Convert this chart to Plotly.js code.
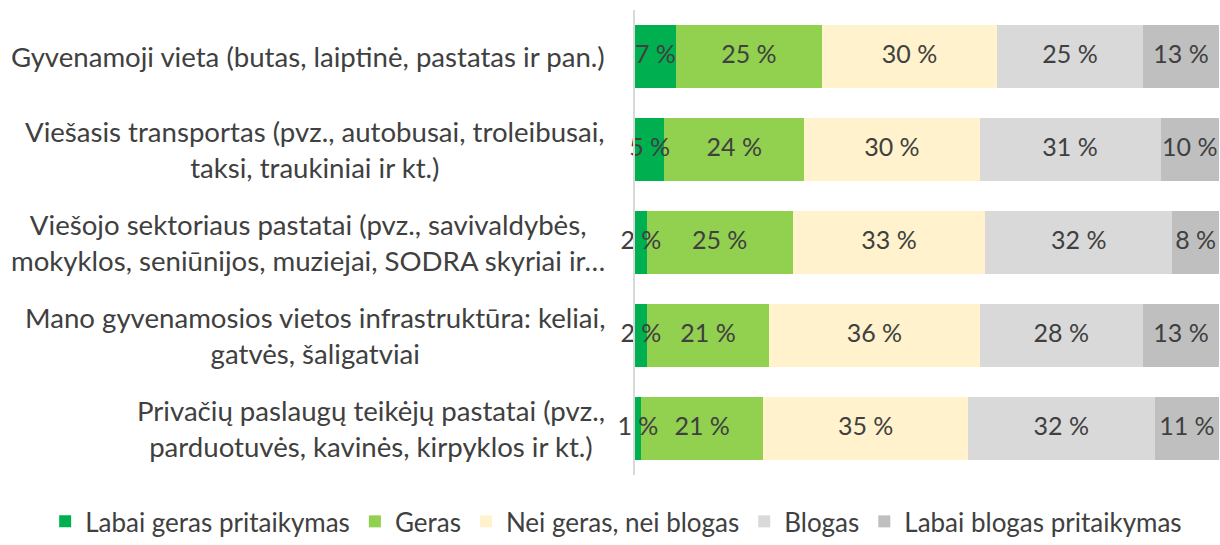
<!DOCTYPE html>
<html>
<head>
<meta charset="utf-8">
<script src="https://cdn.plot.ly/plotly-3.0.1.min.js"></script>
<style>html,body{margin:0;padding:0;background:#fff;}#chart{width:1220px;height:545px;}</style>
</head>
<body>
<div id="chart"></div>
<script>
const categories = [
  "Gyvenamoji vieta (butas, laiptinė, pastatas ir pan.)",
  "Viešasis transportas (pvz., autobusai, troleibusai,<br>taksi, traukiniai ir kt.)",
  "Viešojo sektoriaus pastatai (pvz., savivaldybės,<br>mokyklos, seniūnijos, muziejai, SODRA skyriai ir…",
  "Mano gyvenamosios vietos infrastruktūra: keliai,<br>gatvės, šaligatviai",
  "Privačių paslaugų teikėjų pastatai (pvz.,<br>parduotuvės, kavinės, kirpyklos ir kt.)"
];
const seriesNames = ["Labai geras pritaikymas", "Geras", "Nei geras, nei blogas", "Blogas", "Labai blogas pritaikymas"];
const labaiGeras = [7, 5, 2, 2, 1];
const geras = [25, 24, 25, 21, 21];
const neiGerasNeiBlogas = [30, 30, 33, 36, 35];
const blogas = [25, 31, 32, 28, 32];
const labaiBlogas = [13, 10, 8, 13, 11];
const colors = ["#00B050", "#92D050", "#FFF2CC", "#D9D9D9", "#BFBFBF"];

const FONT = "Lato, 'Open Sans', sans-serif";
const TXT = "#404040";
const allSeries = [labaiGeras, geras, neiGerasNeiBlogas, blogas, labaiBlogas];

const barTraces = allSeries.map((vals, i) => ({
  type: "bar",
  orientation: "h",
  name: seriesNames[i],
  y: categories,
  x: vals,
  marker: {color: colors[i], line: {width: 0}},
  textposition: "none",
  hoverinfo: "skip"
}));

// data labels drawn above all bars, at the middle of each stacked segment
const labelTraces = allSeries.map((vals, i) => ({
  type: "scatter",
  mode: "text",
  showlegend: false,
  cliponaxis: false,
  y: categories,
  x: vals.map((v, k) => {
    let start = 0;
    for (let j = 0; j < i; j++) start += allSeries[j][k];
    return start + v / 2;
  }),
  text: vals.map(v => v + " %"),
  textposition: "middle center",
  textfont: {family: FONT, size: 25, color: TXT},
  hoverinfo: "skip"
}));

const annotations = categories.map(c => ({
  xref: "paper", yref: "y",
  x: 0, y: c,
  xshift: -28,
  xanchor: "right", yanchor: "middle",
  align: "center",
  text: c,
  showarrow: false,
  font: {family: FONT, size: 27.6, color: TXT}
}));

const layout = {
  width: 1220, height: 545,
  margin: {l: 635, r: 1, t: 10, b: 69, pad: 0},
  barmode: "stack",
  bargap: 0.325,
  paper_bgcolor: "#fff",
  plot_bgcolor: "#fff",
  font: {family: FONT, size: 25, color: TXT},
  xaxis: {range: [0, 100], showgrid: false, zeroline: false, showticklabels: false, ticks: "", fixedrange: true},
  yaxis: {autorange: "reversed", showticklabels: false, ticks: "", showgrid: false, zeroline: false,
          showline: true, linecolor: "#D9D9D9", linewidth: 2, fixedrange: true},
  showlegend: true,
  legend: {orientation: "h", xref: "paper", yref: "paper", x: -1.01, xanchor: "left",
           y: -0.148, yanchor: "bottom", font: {family: FONT, size: 26, color: TXT},
           traceorder: "normal", itemwidth: 30, tracegroupgap: 0, borderwidth: 0},
  annotations: annotations
};

Plotly.newPlot("chart", barTraces.concat(labelTraces), layout, {displayModeBar: false, staticPlot: true});
</script>
</body>
</html>
